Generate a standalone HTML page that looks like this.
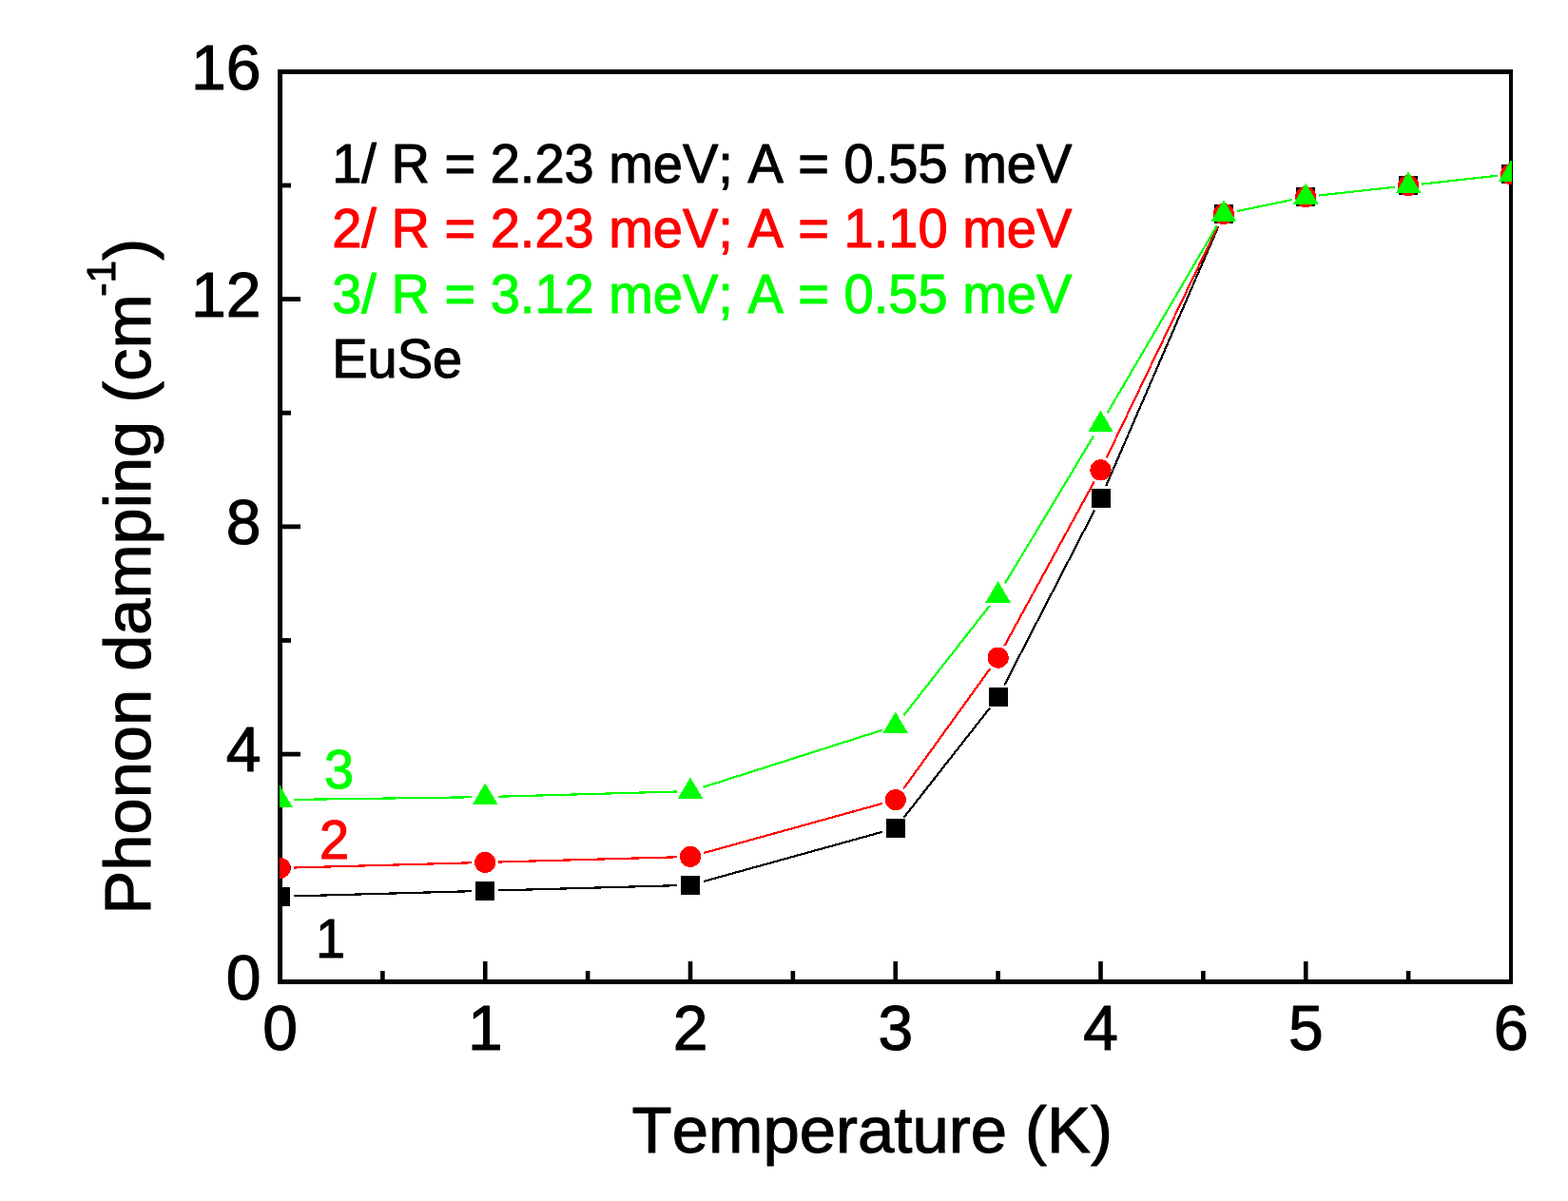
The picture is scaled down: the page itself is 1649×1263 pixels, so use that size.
<!DOCTYPE html>
<html lang="en"><head><meta charset="utf-8"><title>Phonon damping vs Temperature - EuSe</title>
<style>
html,body{margin:0;padding:0;background:#fff;}
body{width:1649px;height:1263px;overflow:hidden;}
svg{display:block;}
text{font-family:"Liberation Sans",Arial,Helvetica,sans-serif;font-kerning:none;font-variant-ligatures:none;stroke-linejoin:round;}
.k{fill:#000;stroke:#000}.r{fill:#f00;stroke:#f00}.g{fill:#0f0;stroke:#0f0}
</style></head><body>
<svg width="1649" height="1263" viewBox="0 0 1649 1263">
<rect width="1649" height="1263" fill="#fff"/>

<g fill="#000" shape-rendering="crispEdges">
<rect x="292" y="73" width="5" height="962"/>
<rect x="292" y="73" width="1299" height="5"/>
<rect x="292" y="1030" width="1299" height="5"/>
<rect x="1587" y="73" width="4" height="962"/>
</g>
<g fill="#000">
<rect x="400.07" y="1021" width="4.6" height="11"/>
<rect x="507.95" y="1011" width="4.6" height="21"/>
<rect x="615.83" y="1021" width="4.6" height="11"/>
<rect x="723.70" y="1011" width="4.6" height="21"/>
<rect x="831.58" y="1021" width="4.6" height="11"/>
<rect x="939.45" y="1011" width="4.6" height="21"/>
<rect x="1047.33" y="1021" width="4.6" height="11"/>
<rect x="1155.20" y="1011" width="4.6" height="21"/>
<rect x="1263.08" y="1021" width="4.6" height="11"/>
<rect x="1370.95" y="1011" width="4.6" height="21"/>
<rect x="1478.83" y="1021" width="4.6" height="11"/>
<rect x="294" y="910.33" width="12" height="4.8"/>
<rect x="294" y="790.70" width="22" height="4.8"/>
<rect x="294" y="671.08" width="12" height="4.8"/>
<rect x="294" y="551.45" width="22" height="4.8"/>
<rect x="294" y="431.82" width="12" height="4.8"/>
<rect x="294" y="312.20" width="22" height="4.8"/>
<rect x="294" y="192.57" width="12" height="4.8"/>
</g>
<text class="k" transform="translate(294.50,1103.80) scale(1,1.012)" font-size="66" stroke-width="1.1" text-anchor="middle">0</text>
<text class="k" transform="translate(510.25,1103.80) scale(1,1.012)" font-size="66" stroke-width="1.1" text-anchor="middle">1</text>
<text class="k" transform="translate(726.00,1103.80) scale(1,1.012)" font-size="66" stroke-width="1.1" text-anchor="middle">2</text>
<text class="k" transform="translate(941.75,1103.80) scale(1,1.012)" font-size="66" stroke-width="1.1" text-anchor="middle">3</text>
<text class="k" transform="translate(1157.50,1103.80) scale(1,1.012)" font-size="66" stroke-width="1.1" text-anchor="middle">4</text>
<text class="k" transform="translate(1373.25,1103.80) scale(1,1.012)" font-size="66" stroke-width="1.1" text-anchor="middle">5</text>
<text class="k" transform="translate(1589.00,1103.80) scale(1,1.012)" font-size="66" stroke-width="1.1" text-anchor="middle">6</text>
<text class="k" transform="translate(274.40,1050.70) scale(1,1.012)" font-size="66" stroke-width="1.1" text-anchor="end">0</text>
<text class="k" transform="translate(274.40,811.45) scale(1,1.012)" font-size="66" stroke-width="1.1" text-anchor="end">4</text>
<text class="k" transform="translate(274.40,572.20) scale(1,1.012)" font-size="66" stroke-width="1.1" text-anchor="end">8</text>
<text class="k" transform="translate(274.40,332.95) scale(1,1.012)" font-size="66" stroke-width="1.1" text-anchor="end">12</text>
<text class="k" transform="translate(274.40,93.70) scale(1,1.012)" font-size="66" stroke-width="1.1" text-anchor="end">16</text>
<text class="k" transform="translate(664.60,1211.80)" font-size="68.9" stroke-width="1.1">Temperature (K)</text>
<text class="k" transform="translate(158.00,961.40) rotate(-90)" font-size="68.6" stroke-width="1.1">Phonon damping (cm</text>
<text class="k" transform="translate(121.20,311.70) rotate(-90) scale(1,1.012)" font-size="42.5" stroke-width="1.1">-1</text>
<text class="k" transform="translate(158.00,273.70) rotate(-90)" font-size="68.6" stroke-width="1.1">)</text>
<text class="k" transform="translate(349.20,191.60) scale(1,1.012)" font-size="56" stroke-width="1.1">1/ R = 2.23 meV; A = 0.55 meV</text>
<text class="r" transform="translate(349.20,259.80) scale(1,1.012)" font-size="56" stroke-width="1.1">2/ R = 2.23 meV; A = 1.10 meV</text>
<text class="g" transform="translate(349.20,328.60) scale(1,1.012)" font-size="56" stroke-width="1.1">3/ R = 3.12 meV; A = 0.55 meV</text>
<text class="k" transform="translate(349.20,396.60) scale(1,1.012)" font-size="56" stroke-width="1.1">EuSe</text>
<text class="k" transform="translate(332.00,1007.00) scale(1,1.012)" font-size="56" stroke-width="1.1">1</text>
<text class="r" transform="translate(335.90,902.80) scale(1,1.012)" font-size="56" stroke-width="1.1">2</text>
<text class="g" transform="translate(341.00,829.20) scale(1,1.012)" font-size="56" stroke-width="1.1">3</text>
<defs><clipPath id="pc"><rect x="294" y="75" width="1296" height="958"/></clipPath></defs>
<g clip-path="url(#pc)" shape-rendering="crispEdges">
<path d="M308.7 942.4L496.1 937.2M524.4 936.4L711.8 931.2M739.7 927.0L928.1 874.8M950.5 859.8L1040.9 744.6M1056.1 720.8L1151.0 536.7M1163.1 511.1L1281.3 238.1M1300.9 222.1L1359.3 210.0M1387.4 205.5L1467.0 196.7M1495.2 193.6L1574.9 184.7" stroke="#000" stroke-width="2.2" fill="none"/>
<rect x="284.5" y="932.8" width="20" height="20" fill="#000"/>
<rect x="500.2" y="926.8" width="20" height="20" fill="#000"/>
<rect x="716.0" y="920.8" width="20" height="20" fill="#000"/>
<rect x="931.8" y="861.0" width="20" height="20" fill="#000"/>
<rect x="1039.6" y="723.4" width="20" height="20" fill="#000"/>
<rect x="1147.5" y="514.1" width="20" height="20" fill="#000"/>
<rect x="1276.9" y="215.0" width="20" height="20" fill="#000"/>
<rect x="1363.2" y="197.1" width="20" height="20" fill="#000"/>
<rect x="1471.1" y="185.1" width="20" height="20" fill="#000"/>
<rect x="1579.0" y="173.2" width="20" height="20" fill="#000"/>
<path d="M308.7 912.5L496.1 907.3M524.4 906.5L711.8 901.3M739.7 897.1L928.1 844.9M950.1 829.6L1041.3 703.1M1056.4 679.1L1150.7 506.6M1163.7 481.4L1280.8 237.8M1300.9 222.1L1359.3 210.0M1387.4 205.5L1467.0 196.7M1495.2 193.6L1574.9 184.7" stroke="#f00" stroke-width="2.2" fill="none"/>
<circle cx="294.5" cy="912.9" r="11.1" fill="#f00"/>
<circle cx="510.2" cy="906.9" r="11.1" fill="#f00"/>
<circle cx="726.0" cy="900.9" r="11.1" fill="#f00"/>
<circle cx="941.8" cy="841.1" r="11.1" fill="#f00"/>
<circle cx="1049.6" cy="691.6" r="11.1" fill="#f00"/>
<circle cx="1157.5" cy="494.2" r="11.1" fill="#f00"/>
<circle cx="1286.9" cy="225.0" r="11.1" fill="#f00"/>
<circle cx="1373.2" cy="207.1" r="11.1" fill="#f00"/>
<circle cx="1481.1" cy="195.1" r="11.1" fill="#f00"/>
<circle cx="1589.0" cy="183.2" r="11.1" fill="#f00"/>
<path d="M308.7 840.9L496.1 838.3M524.4 837.7L711.8 832.5M739.5 827.8L928.2 767.7M950.5 752.2L1040.9 636.9M1056.9 613.6L1150.2 458.5M1164.7 434.1L1279.8 237.3M1300.9 222.1L1359.3 210.0M1387.4 205.5L1467.0 196.7M1495.2 193.6L1574.9 184.7" stroke="#0f0" stroke-width="2.2" fill="none"/>
<path d="M294.5 826.4L307.7 848.8L281.3 848.8Z" fill="#0f0"/>
<path d="M510.2 823.4L523.5 845.8L497.1 845.8Z" fill="#0f0"/>
<path d="M726.0 817.4L739.2 839.8L712.8 839.8Z" fill="#0f0"/>
<path d="M941.8 748.6L955.0 771.0L928.5 771.0Z" fill="#0f0"/>
<path d="M1049.6 611.1L1062.8 633.5L1036.4 633.5Z" fill="#0f0"/>
<path d="M1157.5 431.6L1170.7 454.0L1144.3 454.0Z" fill="#0f0"/>
<path d="M1286.9 210.3L1300.1 232.7L1273.7 232.7Z" fill="#0f0"/>
<path d="M1373.2 192.4L1386.5 214.8L1360.0 214.8Z" fill="#0f0"/>
<path d="M1481.1 180.4L1494.3 202.8L1467.9 202.8Z" fill="#0f0"/>
<path d="M1589.0 168.5L1602.2 190.9L1575.8 190.9Z" fill="#0f0"/>
</g>
</svg></body></html>
